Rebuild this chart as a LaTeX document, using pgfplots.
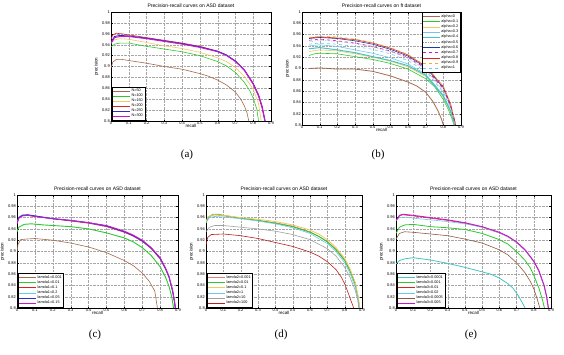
\documentclass[border=0pt]{standalone}
\usepackage{pgfplots}
\pgfplotsset{compat=1.18}
\usepackage{fontspec}
\setmainfont{Liberation Sans}
\newfontfamily\capfont{Liberation Serif}

\definecolor{cBrown}{RGB}{165,105,75}
\definecolor{cGreen}{RGB}{45,200,45}
\definecolor{cYellow}{RGB}{240,200,100}
\definecolor{cRed}{RGB}{220,35,35}
\definecolor{cLRed}{RGB}{235,120,120}
\definecolor{cBlue}{RGB}{45,45,200}
\definecolor{cMag}{RGB}{205,20,205}
\definecolor{cCyan}{RGB}{110,200,235}
\definecolor{cTeal}{RGB}{70,195,195}
\definecolor{cGray}{RGB}{160,160,160}
\definecolor{cNavy}{RGB}{30,60,150}
\definecolor{cOrange}{RGB}{240,170,60}

\pgfplotsset{
  pr/.style={
    scale only axis, anchor=south west,
    xmin=0, xmax=0.9, ymin=0.8, ymax=1,
    xtick={0,0.1,0.2,0.3,0.4,0.5,0.6,0.7,0.8,0.9},
    ytick={0.8,0.82,0.84,0.86,0.88,0.9,0.92,0.94,0.96,0.98,1},
    grid=major, major grid style={densely dotted, gray!70, line width=0.3pt},
    tick style={black, line width=0.3pt}, major tick length=1.5pt,
    axis line style={line width=0.4pt},
    ticklabel style={font=\fontsize{4}{4.5}\selectfont, inner sep=1pt},
    /pgf/number format/assume math mode=true,
    /pgf/number format/fixed, /pgf/number format/precision=2,
    scaled ticks=false,
    xlabel=recall, ylabel=precision,
    label style={font=\fontsize{4.5}{5}\selectfont},
    xlabel style={yshift=5pt}, ylabel style={yshift=-1pt},
    title style={font=\fontsize{5}{6}\selectfont, yshift=-5pt},
    legend cell align=left,
    legend image code/.code={\draw[line width=0.8pt,#1] (0pt,0pt) -- (17pt,0pt);},
    legend style={font=\fontsize{3.8}{4.2}\selectfont,
      inner sep=1pt, row sep=-0.9pt,
      nodes={inner sep=0.9pt}},
    every axis plot/.append style={line width=0.6pt, mark=none},
  },
  lgbl/.style={legend style={at={(0.004,0.004)}, anchor=south west}},
}

\begin{document}
\begin{tikzpicture}[x=1pt,y=1pt]
\useasboundingbox (0,0) rectangle (564,354);

% ---------------- (a) ----------------
\begin{axis}[pr, lgbl, at={(111pt,233pt)}, width=160pt, height=109pt,
  title={Precision-recall curves on ASD dataset}]
\addplot[cBrown] coordinates {(0,0.897)(0.01,0.908)(0.03,0.913)(0.06,0.913)(0.1,0.911)(0.2,0.906)(0.3,0.900)(0.4,0.895)(0.5,0.887)(0.55,0.882)(0.6,0.875)(0.65,0.866)(0.7,0.853)(0.73,0.840)(0.75,0.828)(0.765,0.815)(0.775,0.8)};
\addplot[cGreen] coordinates {(0,0.936)(0.02,0.941)(0.05,0.943)(0.1,0.943)(0.2,0.937)(0.3,0.932)(0.4,0.927)(0.5,0.920)(0.6,0.909)(0.65,0.901)(0.7,0.889)(0.75,0.871)(0.78,0.856)(0.8,0.842)(0.82,0.822)(0.83,0.8)};
\addplot[cYellow] coordinates {(0,0.944)(0.02,0.949)(0.05,0.951)(0.1,0.950)(0.2,0.944)(0.3,0.938)(0.4,0.933)(0.5,0.926)(0.6,0.916)(0.65,0.909)(0.7,0.898)(0.75,0.882)(0.8,0.858)(0.83,0.832)(0.845,0.8)};
\addplot[cRed] coordinates {(0,0.950)(0.01,0.958)(0.03,0.961)(0.06,0.960)(0.1,0.958)(0.2,0.953)(0.3,0.948)(0.4,0.943)(0.5,0.937)(0.6,0.928)(0.65,0.921)(0.7,0.910)(0.75,0.893)(0.8,0.867)(0.83,0.845)(0.85,0.823)(0.865,0.8)};
\addplot[cBlue, line width=0.9pt] coordinates {(0,0.945)(0.02,0.955)(0.05,0.957)(0.1,0.956)(0.2,0.952)(0.3,0.947)(0.4,0.942)(0.5,0.936)(0.6,0.928)(0.65,0.921)(0.7,0.910)(0.75,0.894)(0.8,0.869)(0.83,0.848)(0.85,0.827)(0.867,0.8)};
\addplot[cMag, line width=0.9pt] coordinates {(0,0.942)(0.02,0.953)(0.05,0.955)(0.1,0.955)(0.2,0.951)(0.3,0.946)(0.4,0.941)(0.5,0.935)(0.6,0.927)(0.65,0.920)(0.7,0.909)(0.75,0.893)(0.8,0.868)(0.83,0.847)(0.85,0.826)(0.866,0.8)};
\legend{N=50,N=100,N=150,N=200,N=250,N=300}
\end{axis}

% ---------------- (b) ----------------
\begin{axis}[pr, at={(302pt,229pt)}, width=159pt, height=113pt,
  title={Precision-recall curves on ft dataset},
  legend style={at={(0.996,0.996)}, anchor=north east}]
\addplot[cBrown, line width=0.8pt] coordinates {(0.04,0.900)(0.1,0.901)(0.2,0.899)(0.3,0.899)(0.4,0.895)(0.5,0.887)(0.6,0.876)(0.65,0.869)(0.7,0.858)(0.74,0.842)(0.77,0.825)(0.79,0.81)(0.8,0.8)};
\addplot[cGreen] coordinates {(0.04,0.923)(0.07,0.926)(0.1,0.927)(0.2,0.926)(0.3,0.921)(0.4,0.916)(0.5,0.909)(0.6,0.899)(0.7,0.882)(0.75,0.868)(0.8,0.845)(0.83,0.826)(0.85,0.810)(0.86,0.8)};
\addplot[cYellow] coordinates {(0.04,0.930)(0.1,0.933)(0.2,0.931)(0.3,0.926)(0.4,0.920)(0.5,0.913)(0.6,0.903)(0.7,0.886)(0.75,0.872)(0.8,0.849)(0.84,0.823)(0.862,0.8)};
\addplot[cCyan] coordinates {(0.04,0.940)(0.1,0.942)(0.2,0.939)(0.3,0.933)(0.4,0.927)(0.5,0.919)(0.6,0.908)(0.7,0.890)(0.8,0.853)(0.84,0.826)(0.865,0.8)};
\addplot[cTeal, line width=1.0pt] coordinates {(0.04,0.935)(0.1,0.937)(0.2,0.933)(0.3,0.928)(0.4,0.921)(0.5,0.914)(0.6,0.905)(0.7,0.888)(0.8,0.851)(0.84,0.825)(0.864,0.8)};
\addplot[cGray, densely dotted] coordinates {(0.04,0.947)(0.1,0.950)(0.2,0.948)(0.3,0.944)(0.4,0.938)(0.5,0.930)(0.6,0.918)(0.7,0.898)(0.8,0.861)(0.84,0.832)(0.868,0.8)};
\addplot[cNavy] coordinates {(0.04,0.953)(0.1,0.955)(0.2,0.953)(0.3,0.949)(0.4,0.943)(0.5,0.934)(0.6,0.922)(0.7,0.902)(0.8,0.866)(0.84,0.836)(0.87,0.8)};
\addplot[cMag, dashed] coordinates {(0.04,0.950)(0.1,0.952)(0.2,0.949)(0.3,0.945)(0.4,0.939)(0.5,0.931)(0.6,0.920)(0.7,0.900)(0.8,0.864)(0.84,0.834)(0.869,0.8)};
\addplot[cRed] coordinates {(0.04,0.954)(0.1,0.956)(0.2,0.954)(0.3,0.951)(0.4,0.945)(0.5,0.936)(0.6,0.924)(0.7,0.904)(0.8,0.868)(0.84,0.838)(0.87,0.8)};
\addplot[cOrange, dashed] coordinates {(0.04,0.955)(0.1,0.957)(0.2,0.956)(0.3,0.952)(0.4,0.946)(0.5,0.937)(0.6,0.925)(0.7,0.905)(0.8,0.868)(0.84,0.838)(0.871,0.8)};
\addplot[cCyan, dashed] coordinates {(0.04,0.943)(0.1,0.945)(0.2,0.943)(0.3,0.939)(0.4,0.934)(0.5,0.926)(0.6,0.914)(0.7,0.895)(0.8,0.858)(0.84,0.830)(0.867,0.8)};
\legend{alpha=0,alpha=0.1,alpha=0.2,alpha=0.3,alpha=0.4,alpha=0.5,alpha=0.6,alpha=0.7,alpha=0.8,alpha=0.9,alpha=1}
\end{axis}

% ---------------- (c) ----------------
\begin{axis}[pr, lgbl, at={(17pt,46pt)}, width=161pt, height=113pt,
  title={Precision-recall curves on ASD dataset}]
\addplot[cBrown] coordinates {(0,0.898)(0.005,0.912)(0.02,0.921)(0.05,0.922)(0.1,0.923)(0.2,0.920)(0.3,0.915)(0.4,0.908)(0.5,0.898)(0.6,0.884)(0.65,0.875)(0.7,0.862)(0.74,0.847)(0.77,0.830)(0.785,0.8)};
\addplot[cGreen, line width=0.9pt] coordinates {(0,0.935)(0.01,0.943)(0.04,0.948)(0.08,0.949)(0.15,0.947)(0.2,0.946)(0.3,0.944)(0.4,0.940)(0.5,0.933)(0.6,0.924)(0.65,0.917)(0.7,0.907)(0.75,0.893)(0.8,0.873)(0.83,0.855)(0.85,0.838)(0.865,0.82)(0.875,0.8)};
\addplot[cRed] coordinates {(0,0.950)(0.01,0.960)(0.03,0.964)(0.06,0.964)(0.1,0.962)(0.2,0.958)(0.3,0.954)(0.4,0.950)(0.5,0.944)(0.6,0.934)(0.65,0.927)(0.7,0.918)(0.75,0.905)(0.8,0.887)(0.83,0.869)(0.85,0.854)(0.87,0.829)(0.88,0.811)(0.884,0.8)};
\addplot[cCyan] coordinates {(0,0.951)(0.01,0.961)(0.03,0.965)(0.06,0.965)(0.1,0.963)(0.2,0.959)(0.3,0.955)(0.4,0.951)(0.5,0.945)(0.6,0.935)(0.65,0.928)(0.7,0.919)(0.75,0.906)(0.8,0.888)(0.83,0.870)(0.85,0.855)(0.87,0.830)(0.88,0.812)(0.885,0.8)};
\addplot[cBlue, line width=0.9pt] coordinates {(0,0.950)(0.01,0.960)(0.03,0.964)(0.06,0.965)(0.1,0.963)(0.2,0.958)(0.3,0.955)(0.4,0.951)(0.5,0.945)(0.6,0.935)(0.65,0.928)(0.7,0.919)(0.75,0.906)(0.8,0.888)(0.83,0.870)(0.85,0.855)(0.87,0.830)(0.88,0.812)(0.885,0.8)};
\addplot[cMag, line width=0.9pt] coordinates {(0,0.949)(0.01,0.959)(0.03,0.963)(0.06,0.964)(0.1,0.962)(0.2,0.958)(0.3,0.955)(0.4,0.951)(0.5,0.946)(0.6,0.936)(0.65,0.929)(0.7,0.920)(0.75,0.907)(0.8,0.889)(0.83,0.871)(0.85,0.856)(0.87,0.831)(0.88,0.813)(0.886,0.8)};
\legend{lamda1=0.001,lamda1=0.01,lamda1=0.1,lamda1=0.2,lamda1=0.05,lamda1=0.15}
\end{axis}

% ---------------- (d) ----------------
\begin{axis}[pr, lgbl, at={(206pt,46pt)}, width=156pt, height=113pt,
  title={Precision-recall curves on ASD dataset}]
\addplot[cLRed] coordinates {(0,0.951)(0.02,0.962)(0.05,0.965)(0.1,0.963)(0.2,0.959)(0.3,0.955)(0.4,0.951)(0.5,0.945)(0.6,0.935)(0.7,0.918)(0.75,0.904)(0.8,0.886)(0.83,0.868)(0.86,0.845)(0.875,0.823)(0.886,0.8)};
\addplot[cGreen, line width=0.9pt] coordinates {(0,0.950)(0.01,0.960)(0.04,0.966)(0.07,0.966)(0.1,0.964)(0.2,0.959)(0.3,0.955)(0.4,0.950)(0.5,0.944)(0.6,0.934)(0.65,0.927)(0.7,0.917)(0.75,0.903)(0.8,0.884)(0.83,0.866)(0.86,0.843)(0.875,0.822)(0.885,0.8)};
\addplot[cYellow, line width=0.8pt] coordinates {(0,0.952)(0.01,0.961)(0.04,0.965)(0.1,0.964)(0.2,0.960)(0.3,0.957)(0.4,0.953)(0.5,0.947)(0.6,0.938)(0.65,0.931)(0.7,0.921)(0.75,0.907)(0.8,0.888)(0.83,0.870)(0.86,0.846)(0.875,0.825)(0.888,0.8)};
\addplot[cCyan] coordinates {(0,0.952)(0.02,0.960)(0.05,0.962)(0.1,0.961)(0.2,0.958)(0.3,0.954)(0.4,0.949)(0.5,0.942)(0.6,0.932)(0.7,0.914)(0.75,0.900)(0.8,0.880)(0.83,0.862)(0.86,0.838)(0.875,0.818)(0.884,0.8)};
\addplot[cGray] coordinates {(0,0.935)(0.02,0.943)(0.05,0.946)(0.1,0.946)(0.2,0.943)(0.3,0.940)(0.4,0.936)(0.5,0.930)(0.6,0.921)(0.7,0.905)(0.75,0.892)(0.8,0.872)(0.83,0.855)(0.86,0.832)(0.875,0.815)(0.882,0.8)};
\addplot[cRed!85!black] coordinates {(0,0.912)(0.01,0.925)(0.03,0.930)(0.1,0.931)(0.2,0.928)(0.3,0.923)(0.4,0.916)(0.5,0.909)(0.6,0.899)(0.65,0.892)(0.7,0.882)(0.75,0.868)(0.78,0.855)(0.8,0.843)(0.82,0.827)(0.84,0.810)(0.852,0.8)};
\legend{lamda2=0.001,lamda2=0.01,lamda2=0.1,lamda2=1,lamda2=10,lamda2=100}
\end{axis}

% ---------------- (e) ----------------
\begin{axis}[pr, lgbl, at={(396pt,46pt)}, width=155pt, height=113pt,
  title={Precision-recall curves on ASD dataset}]
\addplot[cTeal, line width=0.8pt] coordinates {(0,0.878)(0.02,0.884)(0.05,0.887)(0.1,0.889)(0.2,0.885)(0.3,0.879)(0.4,0.872)(0.5,0.864)(0.55,0.860)(0.6,0.853)(0.65,0.843)(0.68,0.835)(0.71,0.822)(0.73,0.811)(0.75,0.8)};
\addplot[cGreen, line width=0.8pt] coordinates {(0,0.932)(0.02,0.943)(0.05,0.947)(0.1,0.948)(0.2,0.944)(0.3,0.942)(0.4,0.939)(0.5,0.932)(0.6,0.921)(0.65,0.913)(0.7,0.900)(0.75,0.884)(0.78,0.871)(0.8,0.858)(0.83,0.835)(0.85,0.815)(0.862,0.8)};
\addplot[cRed] coordinates {(0,0.954)(0.02,0.963)(0.04,0.965)(0.1,0.963)(0.2,0.959)(0.3,0.955)(0.4,0.950)(0.5,0.943)(0.6,0.933)(0.65,0.926)(0.7,0.916)(0.75,0.902)(0.8,0.882)(0.83,0.865)(0.86,0.839)(0.875,0.819)(0.884,0.8)};
\addplot[cCyan] coordinates {(0,0.955)(0.02,0.960)(0.05,0.961)(0.1,0.959)(0.2,0.956)(0.3,0.953)(0.4,0.949)(0.5,0.943)(0.6,0.933)(0.65,0.926)(0.7,0.916)(0.75,0.902)(0.8,0.882)(0.83,0.865)(0.86,0.839)(0.875,0.819)(0.884,0.8)};
\addplot[cBrown!85!black] coordinates {(0,0.922)(0.02,0.932)(0.05,0.935)(0.1,0.934)(0.2,0.931)(0.3,0.928)(0.4,0.922)(0.5,0.915)(0.6,0.903)(0.65,0.894)(0.7,0.880)(0.75,0.862)(0.78,0.847)(0.8,0.834)(0.82,0.816)(0.835,0.8)};
\addplot[cMag, line width=0.9pt] coordinates {(0,0.955)(0.02,0.964)(0.04,0.966)(0.1,0.964)(0.2,0.960)(0.3,0.956)(0.4,0.951)(0.5,0.944)(0.6,0.934)(0.65,0.927)(0.7,0.917)(0.75,0.903)(0.8,0.883)(0.83,0.866)(0.86,0.840)(0.875,0.820)(0.885,0.8)};
\legend{lamda3=0.0001,lamda3=0.001,lamda3=0.01,lamda3=0.02,lamda3=0.0005,lamda3=0.005}
\end{axis}

% sub-figure captions
\node[font=\capfont\fontsize{11}{12}\selectfont] at (187,199) {(a)};
\node[font=\capfont\fontsize{11}{12}\selectfont] at (378,199) {(b)};
\node[font=\capfont\fontsize{11}{12}\selectfont] at (95,19) {(c)};
\node[font=\capfont\fontsize{11}{12}\selectfont] at (281,19) {(d)};
\node[font=\capfont\fontsize{11}{12}\selectfont] at (471,19) {(e)};
\end{tikzpicture}
\end{document}
